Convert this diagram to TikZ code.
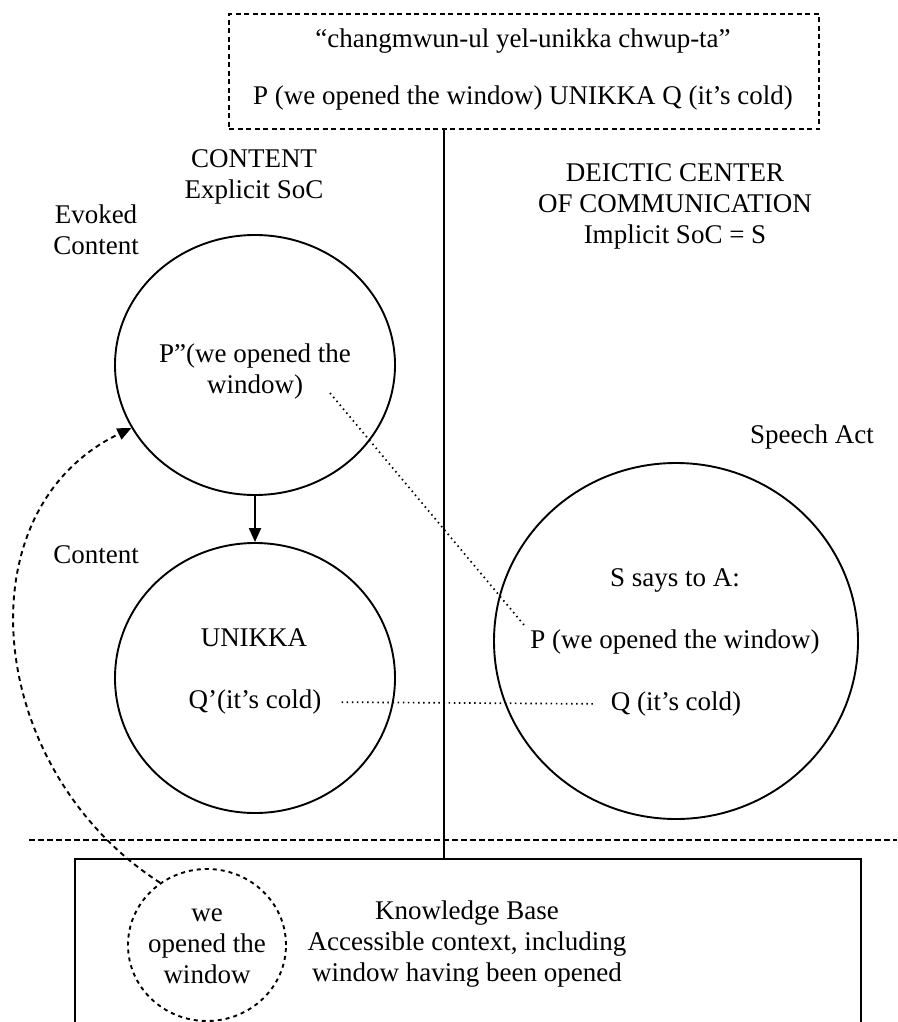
\documentclass[tikz,border=0pt]{standalone}
\usepackage{fontspec}
\setmainfont{Liberation Serif}
\usetikzlibrary{shapes.geometric,arrows.meta}
\begin{document}
\begin{tikzpicture}[x=1pt,y=-1pt,
  every node/.style={font=\fontsize{27}{31}\selectfont, inner sep=0pt, align=center},
  bubble/.style={draw, ellipse, line width=1.9pt},
  dashbubble/.style={draw, ellipse, line width=1.9pt, dash pattern=on 4pt off 4pt},
  frame/.style={draw, rectangle, line width=2.4pt},
  dashframe/.style={draw, rectangle, line width=2.1pt, dash pattern=on 5pt off 3.5pt},
  sepline/.style={line width=2.1pt, dash pattern=on 5.5pt off 3.5pt},
  dotline/.style={line width=1.7pt, dash pattern=on 1.5pt off 3.6pt},
  dashcurve/.style={line width=1.9pt, dash pattern=on 5pt off 4pt},
  solidline/.style={line width=2pt}]
\useasboundingbox (0,0) rectangle (897,1022);

% frames
\node[dashframe, minimum width=590pt, minimum height=115pt, anchor=north west] (top) at (228,13) {};
\node[frame, minimum width=786pt, minimum height=220pt, anchor=north west] (kb) at (74,858) {};

% top texts
\node (t1) at (523,41) {“changmwun-ul yel-unikka chwup-ta”};
\node (t2) at (523,98) {P (we opened the window) UNIKKA Q (it’s cold)};

% vertical divider and separator
\coordinate (vx) at (444,0);
\draw[solidline] (top.south -| vx) -- (kb.north -| vx);
\coordinate (sepL) at (29,840);
\coordinate (sepR) at (897,840);
\draw[sepline] (sepL) -- (sepR);

% headings
\node (hcontent) at (254,177) {CONTENT\\Explicit SoC};
\node (hevoked) at (96,230) {Evoked\\Content};
\node (hdeictic) at (675,206) {DEICTIC CENTER\\OF COMMUNICATION\\Implicit SoC = S};
\node (hcont2) at (96,555) {Content};
\node (hspeech) at (812,437) {Speech Act};

% bubbles
\node[bubble, minimum width=280pt, minimum height=260pt] (c1) at (255,365) {};
\node[bubble, minimum width=280pt, minimum height=270pt] (c2) at (255,678) {};
\node[bubble, minimum width=364pt, minimum height=356pt] (c3) at (676,641) {};
\node[dashbubble, minimum width=158pt, minimum height=152pt] (sc) at (207,945) {};

% bubble texts
\node (p2) at (255,372) {P”(we opened the\\window)};
\node (unikka) at (254,638) {UNIKKA};
\node (qp) at (255,702) {Q’(it’s cold)};
\node (says) at (675,580) {S says to A:};
\node (pw) at (675,642) {P (we opened the window)};
\node (q) at (676,704) {Q (it’s cold)};
\node (scw) at (207,946) {we\\opened the\\window};
\node (kbt) at (467,944) {Knowledge Base\\Accessible context, including\\window having been opened};

% connectors
\draw[solidline, -{Triangle[length=14pt,width=12pt]}] (c1.south) -- (c2.north);
\coordinate (d1) at (330,393);
\coordinate (d2) at (524,625);
\draw[dotline] (d1) -- (d2);
\draw[dotline, shorten <=20pt, shorten >=16pt] (qp.east) -- (q.west);
\draw[dashcurve, -{Triangle[length=14pt,width=12pt]}] (sc.127) .. controls (-15,770) and (-40,510) .. (c1.207);
\end{tikzpicture}
\end{document}
